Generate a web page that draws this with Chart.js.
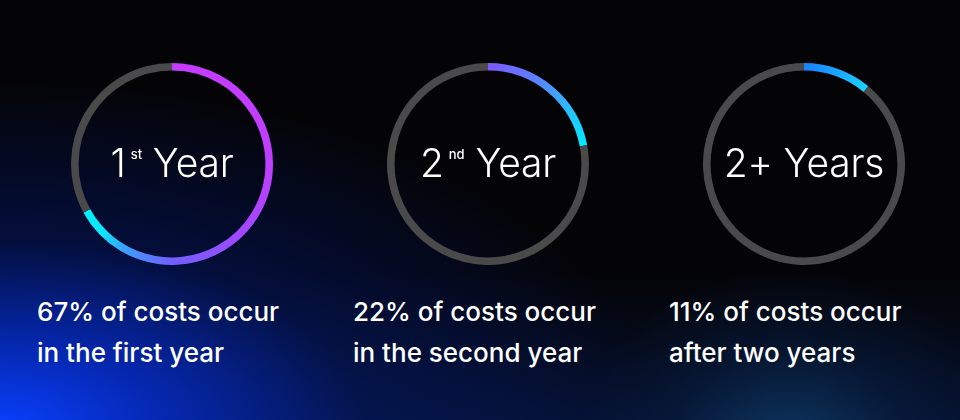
<!DOCTYPE html>
<html>
<head>
<meta charset="utf-8">
<script src="https://cdn.jsdelivr.net/npm/chart.js@4"></script>
<style>
    html, body { margin: 0; padding: 0; }
    body {
        width: 960px; height: 420px; overflow: hidden; position: relative;
        background-color: #040407;
        background-image:
            radial-gradient(ellipse 210px 170px at 790px 440px, rgba(20, 80, 130, .55), rgba(10, 42, 88, .3) 55%, rgba(0, 0, 0, 0) 100%),
            radial-gradient(ellipse 660px 350px at 0px 430px, rgba(10, 64, 255, 1), rgba(5, 46, 210, .8) 25%, rgba(3, 26, 120, .45) 55%, rgba(0, 0, 0, 0) 100%),
            linear-gradient(to top, rgba(6, 25, 70, .6), rgba(0, 0, 0, 0) 35%);
        font-family: Inter, Roboto, sans-serif;
        color: #fff;
    }
    .ring { position: absolute; width: 202px; height: 202px; }
    .center {
        position: absolute; width: 240px; text-align: center;
        font-weight: 300; font-size: 39px; letter-spacing: -0.2px; white-space: nowrap;
    }
    .center sup { font-size: 13px; font-weight: 500; vertical-align: 18px; margin-left: 5px; letter-spacing: 0; }
    .caption {
        position: absolute; font-weight: 500; font-size: 26px; line-height: 41px; white-space: nowrap;
    }
</style>
</head>
<body>
<script>
    const categories = ['1', '2', '2+'];
    const ordinals = ['st', 'nd', ''];
    const units = ['Year', 'Year', 'Years'];
    const shares = [67, 22, 11];
    const captionLine1 = ['67% of costs occur', '22% of costs occur', '11% of costs occur'];
    const captionLine2 = ['in the first year', 'in the second year', 'after two years'];
    // [offset along the coloured arc, colour]
    const gradientStops = [
        [[0, '#c43cff'], [0.37, '#c03eff'], [0.56, '#a048ff'], [0.75, '#7060ff'], [0.87, '#3aa0ff'], [0.93, '#10e2ff'], [1, '#00f2ff']],
        [[0, '#7c58ff'], [0.4, '#5a84ff'], [0.75, '#22c6ff'], [1, '#04eaff']],
        [[0, '#1a80ff'], [0.5, '#1aa6ff'], [1, '#1cd2ff']]
    ];
    const trackColor = '#4a4a4a';

    const centersX = [172, 488, 804];
    const centerY = 164;
    const radius = 101;

    categories.forEach((cat, i) => {
        const box = document.createElement('div');
        box.className = 'ring';
        box.style.left = (centersX[i] - radius) + 'px';
        box.style.top = (centerY - radius) + 'px';
        const canvas = document.createElement('canvas');
        box.appendChild(canvas);
        document.body.appendChild(box);

        const share = shares[i];
        const stops = gradientStops[i];
        // first slice gets a conic gradient starting at 12 o'clock, the rest is the grey track
        const arcFill = (context) => {
            if (context.dataIndex !== 0) return trackColor;
            const chart = context.chart;
            const area = chart.chartArea;
            if (!area) return stops[0][1];
            const cx = (area.left + area.right) / 2;
            const cy = (area.top + area.bottom) / 2;
            const g = chart.ctx.createConicGradient(-Math.PI / 2, cx, cy);
            const end = share / 100;
            stops.forEach(s => g.addColorStop(end * s[0], s[1]));
            g.addColorStop(Math.min(1, end + 0.001), trackColor);
            return g;
        };

        new Chart(canvas.getContext('2d'), {
            type: 'doughnut',
            data: {
                labels: [cat, 'rest'],
                datasets: [{
                    data: [share, 100 - share],
                    backgroundColor: arcFill,
                    borderWidth: 0,
                    hoverOffset: 0
                }]
            },
            options: {
                responsive: true,
                maintainAspectRatio: false,
                animation: false,
                cutout: '92.5%',
                layout: { padding: 0 },
                plugins: { legend: { display: false }, tooltip: { enabled: false } }
            }
        });

        const label = document.createElement('div');
        label.className = 'center';
        label.style.left = (centersX[i] - 120) + 'px';
        label.style.top = (centerY - 25) + 'px';
        label.innerHTML = cat + (ordinals[i] ? '<sup>' + ordinals[i] + '</sup>' : '') + ' ' + units[i];
        document.body.appendChild(label);

        const cap = document.createElement('div');
        cap.className = 'caption';
        cap.style.left = (centersX[i] - 135) + 'px';
        cap.style.top = '291px';
        cap.innerHTML = captionLine1[i] + '<br>' + captionLine2[i];
        document.body.appendChild(cap);
    });
</script>
</body>
</html>
